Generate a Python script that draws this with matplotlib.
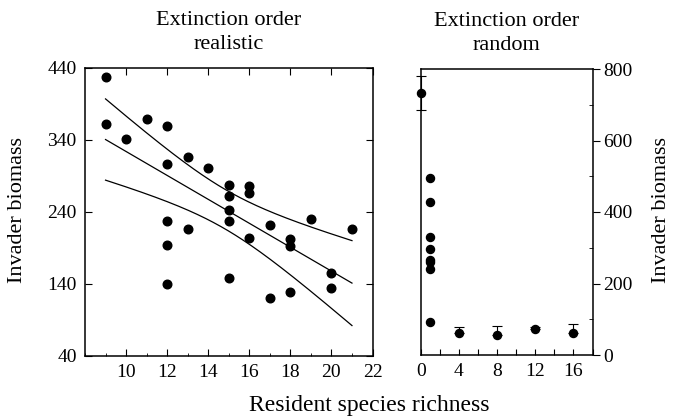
import numpy as np
import matplotlib
matplotlib.use("Agg")
import matplotlib.pyplot as plt
from matplotlib.ticker import MultipleLocator, FixedLocator

plt.rcParams["font.family"] = ["Liberation Serif", "DejaVu Serif"]
plt.rcParams["font.size"] = 14

# realistic extinction order: richness vs invader biomass
real_richness = [9, 9, 10, 11, 12, 12, 13, 14, 15, 15, 15, 15, 16, 16, 12,
                 13, 12, 12, 15, 16, 17, 17, 18, 18, 18, 19, 20, 20, 21]
real_biomass = [428, 362, 342, 369, 360, 307, 316, 301, 278, 262, 243, 228, 276,
                266, 227, 217, 194, 140, 148, 204, 222, 121, 202, 193, 129, 230,
                155, 134, 217]

# random extinction order: single runs at richness 1, means at the others
rand_single_x = [1, 1, 1, 1, 1, 1, 1, 1]
rand_single_y = [495, 428, 329, 296, 266, 259, 240, 93]
rand_mean_x = [0, 4, 8, 12, 16]
rand_mean_y = [733, 61, 56, 72, 61]
rand_err_lo = [47, 0, 0, 0, 0]
rand_err_hi = [48, 16, 25, 6, 25]

T_CRIT = 2.47  # two-sided t quantile used for the band, df = 27

fig = plt.figure(figsize=(6.73, 4.18), dpi=100)
ax1 = fig.add_axes([85 / 673, 62 / 418, 287.5 / 673, 288 / 418])
ax2 = fig.add_axes([420.7 / 673, 63 / 418, 171.8 / 673, 286 / 418])

# --- left panel: least-squares line with confidence band
x = np.array(real_richness, dtype=float)
y = np.array(real_biomass, dtype=float)
n = len(x)
slope, intercept = np.polyfit(x, y, 1)
resid = y - (intercept + slope * x)
s = np.sqrt(np.sum(resid ** 2) / (n - 2))
sxx = np.sum((x - x.mean()) ** 2)
xx = np.linspace(x.min(), x.max(), 200)
fit = intercept + slope * xx
half = T_CRIT * s * np.sqrt(1 / n + (xx - x.mean()) ** 2 / sxx)

ax1.plot(xx, fit, color="black", lw=0.9)
ax1.plot(xx, fit + half, color="black", lw=0.9)
ax1.plot(xx, fit - half, color="black", lw=0.9)
ax1.plot(x, y, "o", color="black", ms=6.2, mec="black")

ax1.set_xlim(8, 22)
ax1.set_ylim(40, 440)
ax1.xaxis.set_major_locator(FixedLocator([10, 12, 14, 16, 18, 20, 22]))
ax1.xaxis.set_minor_locator(MultipleLocator(1))
ax1.yaxis.set_major_locator(FixedLocator([40, 140, 240, 340, 440]))
ax1.tick_params(axis="both", which="major", direction="in", length=5, width=0.8,
                top=True, right=True, labelsize=14, pad=6)
ax1.tick_params(axis="x", which="minor", direction="in", length=2, width=0.6, top=False)
for sp in ax1.spines.values():
    sp.set_linewidth(1.1)

# --- right panel: random order
ax2.plot(rand_single_x, rand_single_y, "o", color="black", ms=5.8)
ax2.errorbar(rand_mean_x, rand_mean_y, yerr=[rand_err_lo, rand_err_hi], fmt="o",
             color="black", ms=5.8, elinewidth=0.8, capsize=3.5, capthick=0.8,
             clip_on=False)

ax2.set_xlim(0, 18)
ax2.set_ylim(0, 800)
ax2.xaxis.set_major_locator(FixedLocator([0, 4, 8, 12, 16]))
ax2.xaxis.set_minor_locator(FixedLocator([2, 6, 10, 14, 18]))
ax2.yaxis.set_major_locator(MultipleLocator(200))
ax2.yaxis.set_minor_locator(MultipleLocator(100))
ax2.yaxis.tick_right()
ax2.tick_params(axis="x", which="both", direction="in", length=4, width=0.8,
                labelsize=14, pad=6)
ax2.tick_params(axis="y", which="major", direction="out", length=5, width=0.8,
                labelsize=14, pad=3)
ax2.tick_params(axis="y", which="minor", direction="in", length=3, width=0.6)
for sp in ax2.spines.values():
    sp.set_linewidth(1.1)

ax1.set_title("Extinction order\nrealistic", fontsize=16, pad=14, linespacing=1.3)
ax2.set_title("Extinction order\nrandom", fontsize=16, pad=14, linespacing=1.3)

# axis labels
fig.text(18 / 673, 1 - 210 / 418, "Invader biomass", fontsize=16, rotation=90,
         ha="center", va="center")
fig.text(662 / 673, 1 - 210 / 418, "Invader biomass", fontsize=16, rotation=90,
         ha="center", va="center")
fig.text(369.5 / 673, 1 - 406 / 418, "Resident species richness", fontsize=17,
         ha="center", va="center")

fig.savefig("out.png", dpi=100)
